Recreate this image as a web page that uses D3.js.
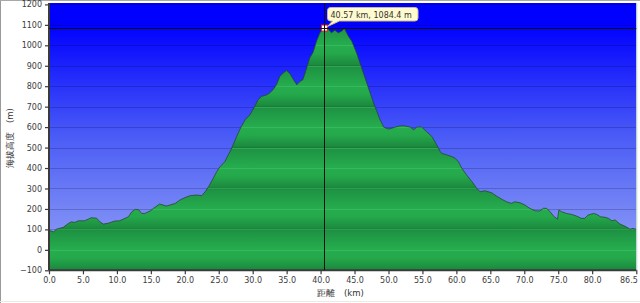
<!DOCTYPE html>
<html><head><meta charset="utf-8">
<script src="https://cdn.jsdelivr.net/npm/d3@7"></script>
<style>
html,body{margin:0;padding:0;background:#fff;}
svg{display:block;}
text{font-family:"DejaVu Sans",Verdana,sans-serif;}
</style></head>
<body>
<script>
const distKm = [0,0.65,1.1,2.1,2.85,3.3,3.8,4.3,5.2,5.8,6.2,7.0,7.5,8.0,8.7,9.7,10.4,11.2,11.7,12.2,12.7,13.2,13.65,14.1,14.9,15.4,16.3,17.3,17.8,18.6,19.3,20.0,20.8,21.75,22.5,23.0,23.5,24.2,24.7,25.2,25.9,26.4,26.8,27.4,28.2,28.9,29.6,30.3,30.8,31.3,32.1,32.5,33.0,33.5,34.0,34.5,35.0,35.5,36.0,36.5,36.96,37.4,37.95,38.4,38.9,39.4,39.9,40.57,41.1,41.6,42.1,42.6,43.1,43.5,44.1,44.6,45.3,45.8,46.3,46.8,47.3,47.8,48.3,48.75,49.3,50.0,50.5,51.0,51.7,52.4,53.2,53.7,54.2,54.9,55.6,56.4,57.1,57.6,57.8,58.6,59.3,59.8,60.3,60.8,61.5,62.3,63.0,63.5,64.2,65.2,65.9,66.7,67.4,68.1,68.6,69.4,70.1,70.8,71.6,72.3,72.8,73.3,73.8,74.4,74.9,75.1,75.5,76.2,77.0,77.7,78.4,78.9,79.4,80.2,80.7,81.2,81.9,82.4,82.9,83.4,84.1,84.8,85.6,86.0,86.5];
const elevM = [96,88,101,110,129,137,134,142,142,150,157,155,137,126,130,141,142,154,162,186,198,196,178,178,190,203,224,214,219,227,244,255,265,268,265,284,309,350,382,407,431,464,489,535,595,636,660,701,734,750,758,767,783,807,848,865,877,861,832,807,823,832,889,938,966,1020,1061,1084.4,1080,1061,1074,1061,1069,1082,1044,1020,963,914,865,816,767,718,676,636,600,590,595,600,606,606,600,587,600,600,578,554,513,482,472,464,456,448,431,399,366,333,301,284,289,279,263,247,235,227,235,230,219,203,191,190,203,203,186,162,150,195,186,178,173,165,154,154,170,178,173,162,159,154,142,146,126,116,101,105,100];
const xTicks = [0,5,10,15,20,25,30,35,40,45,50,55,60,65,70,75,80,86.5];
const yTicks = [-100,0,100,200,300,400,500,600,700,800,900,1000,1100,1200];
const markerKm = 40.57, markerElev = 1084.4;
const tooltipText = "40.57 km, 1084.4 m";
const xTitle = "距離　(km)";
const yTitle = "海拔高度　(m)";

const W = 640, H = 303;
const x = d3.scaleLinear().domain([0, 86.5]).range([49, 636.3]);
const y = d3.scaleLinear().domain([-100, 1200]).range([270.3, 4.4]);
const data = distKm.map((d, i) => ({d, e: elevM[i]}));

const svg = d3.select("body").append("svg").attr("width", W).attr("height", H);
const defs = svg.append("defs");

const sky = defs.append("linearGradient").attr("id", "sky")
  .attr("x1", 0).attr("y1", 0).attr("x2", 0).attr("y2", 1);
[[0,"#0000ff"],[0.08,"#0000ff"],[0.5,"#4a5cf6"],[0.78,"#7686f5"],[1,"#98a6f5"]]
  .forEach(([o,c]) => sky.append("stop").attr("offset", o).attr("stop-color", c));

const grass = defs.append("linearGradient").attr("id", "grass")
  .attr("gradientUnits", "userSpaceOnUse").attr("spreadMethod", "repeat")
  .attr("x1", 0).attr("x2", 0).attr("y1", y(400)).attr("y2", y(200));
[[0,"#26ad4e"],[0.2,"#24a84b"],[0.47,"#1c8a3f"],[0.5,"#197a37"],[0.53,"#1e9243"],[1,"#26ad4e"]]
  .forEach(([o,c]) => grass.append("stop").attr("offset", o).attr("stop-color", c));

defs.append("clipPath").attr("id", "plotClip").append("rect")
  .attr("x", 49).attr("y", 3).attr("width", 636.3 - 49).attr("height", 270.3 - 3);

// outer frame
svg.append("line").attr("x1", 0.5).attr("x2", 0.5).attr("y1", 0).attr("y2", 303).attr("stroke", "#9a9a9a");
svg.append("line").attr("x1", 0).attr("x2", 640).attr("y1", 0.5).attr("y2", 0.5).attr("stroke", "#a8a8a8");
svg.append("line").attr("x1", 0).attr("x2", 640).attr("y1", 301.5).attr("y2", 301.5).attr("stroke", "#ecebe0");

// plot background
svg.append("rect").attr("x", 49).attr("y", 3).attr("width", 636.3 - 49).attr("height", 270.3 - 3)
  .attr("fill", "url(#sky)");

// grid (sky)
const plot = svg.append("g").attr("clip-path", "url(#plotClip)");
plot.selectAll("line.grid").data(yTicks).join("line").attr("class", "grid")
  .attr("x1", 49).attr("x2", 636.3).attr("y1", d => Math.round(y(d)) + 0.5).attr("y2", d => Math.round(y(d)) + 0.5)
  .attr("stroke", "rgba(0,0,50,0.2)");

// terrain
const area = d3.area().x(d => x(d.d)).y0(y(-100)).y1(d => y(d.e));
const line = d3.line().x(d => x(d.d)).y(d => y(d.e));
plot.append("path").datum(data).attr("d", area).attr("fill", "url(#grass)");
defs.append("clipPath").attr("id", "areaClip").append("path").datum(data).attr("d", area);
const g2 = plot.append("g").attr("clip-path", "url(#areaClip)");
g2.selectAll("line").data(yTicks).join("line")
  .attr("x1", 49).attr("x2", 636.3).attr("y1", d => Math.round(y(d)) + 0.5).attr("y2", d => Math.round(y(d)) + 0.5)
  .attr("stroke", "rgba(70,200,110,0.45)");
plot.append("path").datum(data).attr("d", line).attr("fill", "none")
  .attr("stroke", "rgba(40,70,45,0.85)").attr("stroke-width", 0.9);

// right border
svg.append("line").attr("x1", 636.8).attr("x2", 636.8).attr("y1", 3).attr("y2", 271).attr("stroke", "#b8d8cc");

// axes
const yAxis = d3.axisLeft(y).tickValues(yTicks).tickSize(4).tickPadding(3).tickFormat(d3.format("d"));
const xAxis = d3.axisBottom(x).tickValues(xTicks).tickSize(4).tickPadding(3).tickFormat(d3.format(".1f"));
const gy = svg.append("g").attr("transform", "translate(49,0)").call(yAxis);
const gx = svg.append("g").attr("transform", "translate(0,270.3)").call(xAxis);
[gy, gx].forEach(g => {
  g.select(".domain").attr("stroke", "#3a3a3a").attr("stroke-width", 2);
  g.selectAll(".tick line").attr("stroke", "#3a3a3a").attr("stroke-width", 1.2);
  g.selectAll(".tick text").attr("fill", "#3c3c3c").style("font-size", "8px")
    .style("font-family", "'DejaVu Sans',Verdana,sans-serif");
});
gx.selectAll(".tick").filter(d => d === xTicks[xTicks.length - 1]).select("text")
  .attr("text-anchor", "end").attr("x", 1);
gx.select(".domain").attr("d", "M49,0H636.3");
gy.select(".domain").attr("d", "M0,3V270.3");

// titles
svg.append("text").attr("x", 317).attr("y", 296).attr("fill", "#333")
  .style("font-size", "8.5px").text(xTitle);
svg.append("text").attr("transform", "translate(12.5,168) rotate(-90)").attr("fill", "#333")
  .style("font-size", "8.5px").text(yTitle);

// crosshair
const mx = x(markerKm), my = y(markerElev);
svg.append("rect").attr("x", mx - 3).attr("y", my - 3).attr("width", 6).attr("height", 6)
  .attr("fill", "#fff").attr("stroke", "#e02020").attr("stroke-width", 1);
svg.append("line").attr("x1", Math.round(mx) + 0.5).attr("x2", Math.round(mx) + 0.5).attr("y1", 3).attr("y2", 270.3)
  .attr("stroke", "#111").attr("stroke-width", 1);
svg.append("line").attr("x1", 49).attr("x2", 636.3).attr("y1", Math.round(my) + 0.5).attr("y2", Math.round(my) + 0.5)
  .attr("stroke", "#111").attr("stroke-width", 1);

// tooltip
const bx = 327.5, by = 7.5, bw = 90.5, bh = 13.5, r = 3;
const tip = d3.path();
tip.moveTo(bx + r, by);
tip.lineTo(bx + bw - r, by); tip.quadraticCurveTo(bx + bw, by, bx + bw, by + r);
tip.lineTo(bx + bw, by + bh - r); tip.quadraticCurveTo(bx + bw, by + bh, bx + bw - r, by + bh);
tip.lineTo(bx + 12, by + bh); tip.lineTo(mx + 3, my - 1.5); tip.lineTo(bx + 5, by + bh);
tip.lineTo(bx + r, by + bh); tip.quadraticCurveTo(bx, by + bh, bx, by + bh - r);
tip.lineTo(bx, by + r); tip.quadraticCurveTo(bx, by, bx + r, by);
tip.closePath();
svg.append("path").attr("d", tip.toString()).attr("fill", "#fffbcf").attr("stroke", "#c9b98a").attr("stroke-width", 1);
svg.append("text").attr("x", 330.5).attr("y", 17.5).attr("fill", "#333")
  .style("font-size", "8px").text(tooltipText);
</script>
</body></html>
